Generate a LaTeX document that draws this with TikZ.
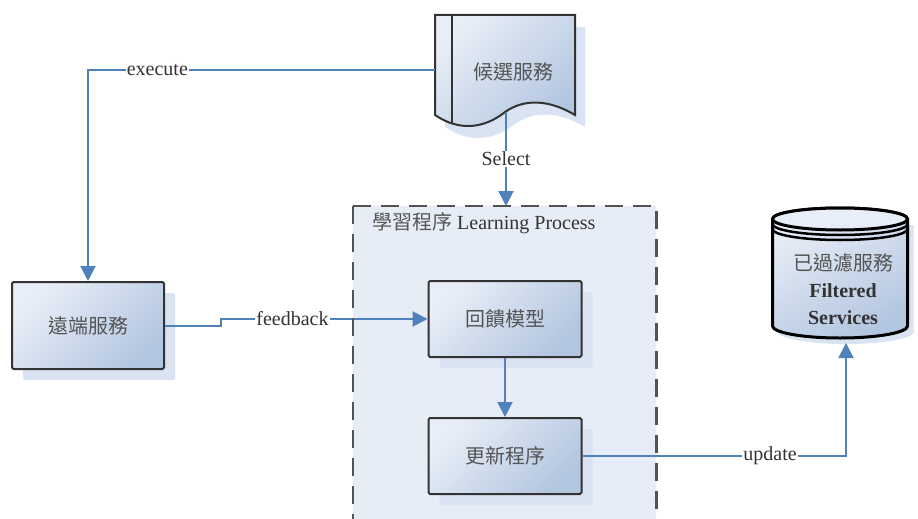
\documentclass[tikz,border=0pt]{standalone}
\usepackage{fontspec}
\setmainfont{Liberation Serif}
\newfontfamily\cjk{Noto Sans CJK TC}
\usetikzlibrary{arrows.meta,shadows}

\definecolor{wire}{HTML}{4F81BD}
\definecolor{boxlight}{HTML}{E8EEF7}
\definecolor{boxdark}{HTML}{B3C6E0}
\definecolor{shadowblue}{HTML}{D9E3F1}
\definecolor{zone}{HTML}{E7EDF7}
\definecolor{ink}{HTML}{333333}
\definecolor{cjkgray}{HTML}{555555}

\begin{document}
\begin{tikzpicture}[x=1pt,y=-1pt,
  font=\fontsize{20}{26}\selectfont,
  proc/.style={draw=ink, line width=2pt, rounded corners=1.5pt,
    top color=boxlight, bottom color=boxdark, shading angle=45,
    inner sep=0pt, text=cjkgray, font=\fontsize{20}{26}\selectfont\cjk,
    drop shadow={shadow xshift=11pt, shadow yshift=-11pt, fill=shadowblue, opacity=1}},
  conn/.style={draw=wire, line width=2pt, -{Triangle[length=15pt,width=15pt]}},
  lbl/.style={fill=white, inner sep=1pt, text=ink},
  outline/.style={draw=ink, line width=2pt},
]
\clip (0,0) rectangle (918,519);
\useasboundingbox (0,0) rectangle (918,519);

% learning process zone (fill only; the dashed border comes last)
\node[fill=zone, minimum width=303pt, minimum height=340pt, inner sep=0pt,
      anchor=north west] (learn) at (353,206) {};
\node[anchor=west, inner sep=0pt, text=ink] (title) at (372,223)
  {{\cjk\color{cjkgray}學習程序} Learning Process};

% candidate services: document shape
\node[minimum width=140pt, minimum height=110pt, inner sep=0pt] (doc) at (505,70) {};
\begin{scope}[shift={(10,12)}]
  \fill[shadowblue] (435,15) -- (575,15) -- (575,115)
    .. controls (550,100) and (525,98) .. (505,112)
    .. controls (485,128) and (460,132) .. (435,115) -- cycle;
\end{scope}
\path[outline, top color=boxlight, bottom color=boxdark, shading angle=45]
  (435,15) -- (575,15) -- (575,115)
  .. controls (550,100) and (525,98) .. (505,112)
  .. controls (485,128) and (460,132) .. (435,115) -- cycle;
\draw[outline] (452,15) -- (452,123);
\node[text=cjkgray, font=\fontsize{20}{26}\selectfont\cjk] (doctext) at (513,72) {候選服務};
\coordinate (docbot) at (506,112);

% filtered services: cylinder
\begin{scope}[shift={(6,6)}]
  \fill[shadowblue] (772.5,219) -- (772.5,326)
    .. controls (772.5,332.6) and (802.7,338) .. (840,338)
    .. controls (877.3,338) and (907.5,332.6) .. (907.5,326) -- (907.5,219) -- cycle;
\end{scope}
\path[draw=black, line width=3pt, top color=boxlight, bottom color=boxdark, shading angle=30]
  (772.5,219) -- (772.5,326)
  .. controls (772.5,332.6) and (802.7,338) .. (840,338)
  .. controls (877.3,338) and (907.5,332.6) .. (907.5,326)
  -- (907.5,219)
  .. controls (907.5,212.9) and (877.3,208) .. (840,208)
  .. controls (802.7,208) and (772.5,212.9) .. (772.5,219) -- cycle;
\draw[black, line width=3pt, fill=boxlight] (840,219) ellipse [x radius=67.5pt, y radius=11pt];
\draw[black, line width=2.5pt] (772.5,224)
  .. controls (772.5,230.1) and (802.7,235) .. (840,235)
  .. controls (877.3,235) and (907.5,230.1) .. (907.5,224);
\draw[black, line width=2.5pt] (772.5,229)
  .. controls (772.5,235.1) and (802.7,240) .. (840,240)
  .. controls (877.3,240) and (907.5,235.1) .. (907.5,229);
\node[align=center, text=ink, font=\fontsize{20}{27}\selectfont] (store) at (843,289)
  {{\cjk\color{cjkgray}已過濾服務}\\ \textbf{Filtered}\\ \textbf{Services}};
\coordinate (cylbase) at (846,343);

% process boxes
\node[proc, minimum width=152pt, minimum height=87pt] (remote) at (88,325.5) {遠端服務};
\node[proc, minimum width=153pt, minimum height=76pt] (model) at (505,319) {回饋模型};
\node[proc, minimum width=153pt, minimum height=76pt] (upd) at (505,456) {更新程序};

% connectors
\draw[conn] (doc.west) -| node[lbl, pos=0.40] {execute} (remote.north);
\draw[conn] (docbot) -- node[lbl] {Select} (docbot |- learn.north);
\draw[conn] (remote.east) -- ++(56,0) |- node[lbl, pos=0.673] {feedback} (model.west);
\draw[conn] (model.south) -- (upd.north);
\draw[conn] (upd.east) -| node[lbl, pos=0.356] {update} (cylbase);

% dashed border of the learning process zone
\draw[ink!85, line width=2.5pt, dash pattern=on 18pt off 10pt]
  (learn.north west) -- (learn.north east) -- (learn.south east)
  (learn.north west) -- (learn.south west);
\end{tikzpicture}
\end{document}
